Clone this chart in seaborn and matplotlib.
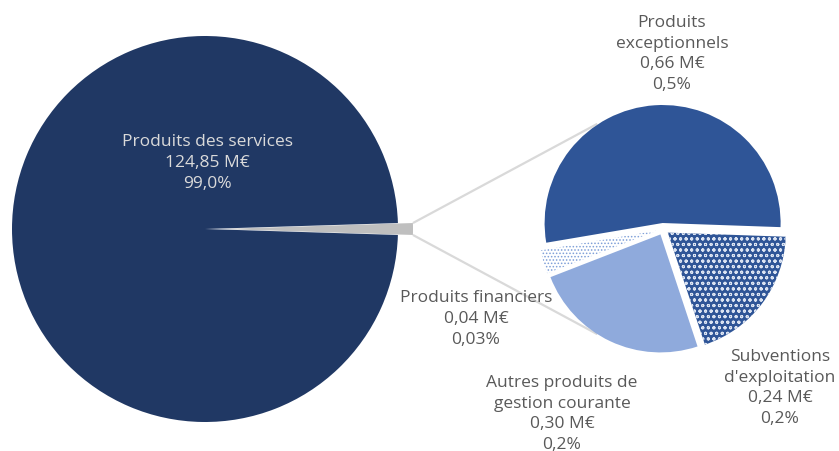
import matplotlib
matplotlib.use("Agg")
import matplotlib.pyplot as plt
import seaborn as sns
import numpy as np

# Revenue breakdown (M€)
main_label = "Produits des services"
main_value = 124.85
main_pct = "99,0%"

detail_labels = ["Produits\nexceptionnels", "Produits financiers",
                 "Autres produits de\ngestion courante", "Subventions\nd'exploitation"]
detail_values = [0.66, 0.04, 0.30, 0.24]
detail_pcts = ["0,5%", "0,03%", "0,2%", "0,2%"]

sns.set_theme(style="white")
plt.rcParams["font.family"] = ["Open Sans", "DejaVu Sans"]
plt.rcParams["hatch.linewidth"] = 0.7

W, H = 839, 452
fig = plt.figure(figsize=(W / 100, H / 100), dpi=100)
ax = fig.add_axes([0, 0, 1, 1])


def P(px, py):
    """pixel-style coordinates (origin top-left) -> data coordinates"""
    return px, H - py


def fmt(v):
    return f"{v:.2f}".replace(".", ",") + " M€"


# ---- main pie -------------------------------------------------------------
other_total = sum(detail_values)
main_vals = [other_total, main_value]
frac = other_total / sum(main_vals)
lc = P(205, 230)
lr = 193
lexp = 15
wl, _ = ax.pie(main_vals, center=lc, radius=lr, explode=[lexp, 0],
               startangle=-180 * frac, counterclock=True,
               colors=["#BFBFBF", "#203864"], frame=True,
               wedgeprops=dict(linewidth=0))

# ---- detail pie -----------------------------------------------------------
rc = P(663, 230)
rr = 118
rexp = 6
wr, _ = ax.pie(detail_values, center=rc, radius=rr, explode=[rexp] * 4,
               startangle=-2, counterclock=True, frame=True,
               colors=["#2F5597", "#FFFFFF", "#8FAADC", "#2F5597"],
               wedgeprops=dict(linewidth=0))
# patterned slices
wr[1].set_facecolor("white")
wr[1].set_edgecolor("#7F9FD8")
wr[1].set_linewidth(0)
wr[1].set_hatch(".....")
wr[3].set_facecolor("#2F5597")
wr[3].set_edgecolor("#DCE4F2")
wr[3].set_linewidth(0)
wr[3].set_hatch("ooo")

# ---- connector lines ------------------------------------------------------
half = np.deg2rad(180 * frac)
gx = lc[0] + lexp
for s, a in [(1, 122), (-1, 238)]:
    x0 = gx + lr * np.cos(half)
    y0 = lc[1] + s * lr * np.sin(half)
    t = np.deg2rad(a)
    x1 = rc[0] + (rr + rexp) * np.cos(t)
    y1 = rc[1] + (rr + rexp) * np.sin(t)
    ax.plot([x0, x1], [y0, y1], color="#D9D9D9", lw=1.6, zorder=0,
            solid_capstyle="butt")

# ---- labels ---------------------------------------------------------------
fs = 12.5
ls = 1.38
ax.text(*P(207, 163), f"{main_label}\n{fmt(main_value)}\n{main_pct}",
        ha="center", va="center", color="#DADADA", fontsize=fs,
        linespacing=ls, multialignment="center")

label_pos = [(672, 54), (476, 319), (562, 414), (780, 388)]
for lab, v, pct, (px, py) in zip(detail_labels, detail_values, detail_pcts, label_pos):
    ax.text(*P(px, py), f"{lab}\n{fmt(v)}\n{pct}", ha="center", va="center",
            color="#595959", fontsize=fs, linespacing=ls,
            multialignment="center")

ax.set_xlim(0, W)
ax.set_ylim(0, H)
ax.set_aspect("equal")
ax.axis("off")
fig.savefig("out.png", dpi=100, facecolor="white")
